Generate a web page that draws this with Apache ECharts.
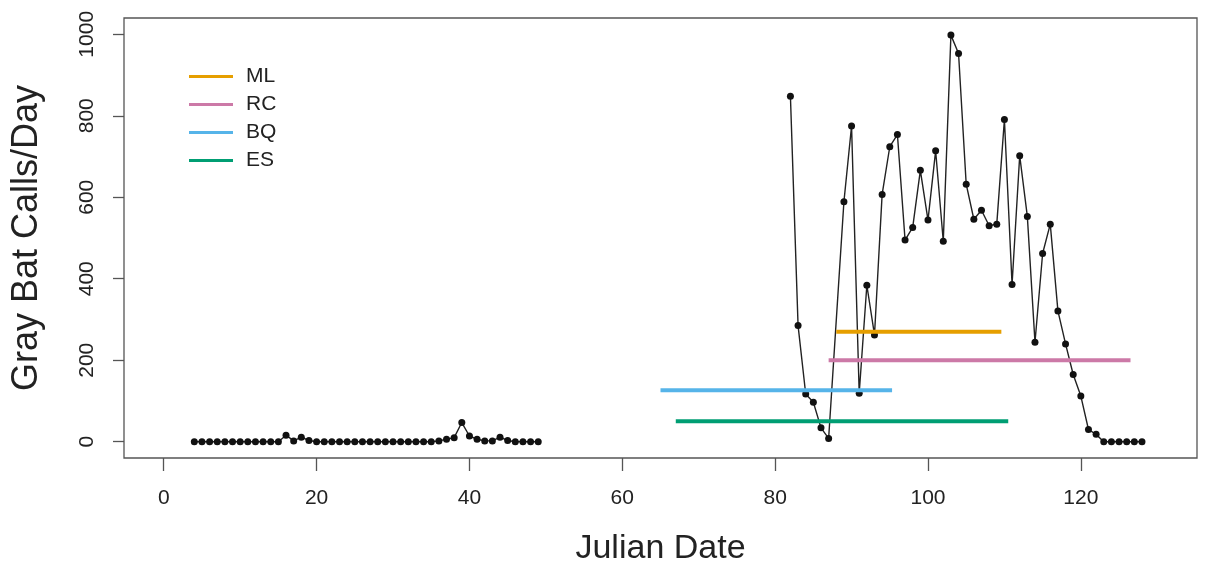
<!DOCTYPE html>
<html>
<head>
<meta charset="utf-8">
<script src="https://cdn.jsdelivr.net/npm/echarts@6/dist/echarts.min.js"></script>
<style>
html,body{margin:0;padding:0;background:#fff;}
#chart{width:1205px;height:571px;}
</style>
</head>
<body>
<div id="chart"></div>
<script>
// Early-season detections (Julian days 4-49)
var daysEarly = [4,5,6,7,8,9,10,11,12,13,14,15,16,17,18,19,20,21,22,23,24,25,26,27,28,29,30,31,32,33,34,35,36,37,38,39,40,41,42,43,44,45,46,47,48,49];
var callsEarly = [0,0,0,0,0,0,0,0,0,0,0,0,16,2,11,3,0,0,0,0,0,0,0,0,0,0,0,0,0,0,0,0,2,6,10,47,14,6,2,2,11,3,0,0,0,0];
// Late-season detections (Julian days 82-128, no day 88)
var daysLate = [82,83,84,85,86,87,89,90,91,92,93,94,95,96,97,98,99,100,101,102,103,104,105,106,107,108,109,110,111,112,113,114,115,116,117,118,119,120,121,122,123,124,125,126,127,128];
var callsLate = [848,285,117,97,34,8,589,775,119,384,262,607,724,754,495,526,666,544,714,492,998,953,632,546,568,530,534,791,386,702,553,244,462,534,321,240,165,112,30,18,0,0,0,0,0,0];
// Site occupancy periods
var siteNames = ['ML','RC','BQ','ES'];
var siteStart = [88,87,65,67];
var siteEnd = [109.6,126.5,95.3,110.5];
var siteLevel = [270,200,126,50];
var siteColors = ['#E69F00','#CC79A7','#56B4E9','#009E73'];
// Tick labels
var xTicks = [0,20,40,60,80,100,120];
var yTicks = [0,200,400,600,800,1000];

var FONT = '"Liberation Sans", Arial, Helvetica, sans-serif';

function pairs(xs, ys){ return xs.map(function(x,i){ return [x, ys[i]]; }); }

var series = [];
[[daysEarly, callsEarly],[daysLate, callsLate]].forEach(function(d){
  series.push({
    type:'line', name:'calls', data: pairs(d[0], d[1]),
    symbol:'circle', symbolSize:7, showSymbol:true,
    itemStyle:{color:'#111'}, lineStyle:{color:'#222', width:1.4},
    z:2, silent:true
  });
});
siteNames.forEach(function(n,i){
  series.push({
    type:'line', name:n,
    data:[[siteStart[i], siteLevel[i]],[siteEnd[i], siteLevel[i]]],
    symbol:'none', color: siteColors[i],
    lineStyle:{color:siteColors[i], width:4, cap:'butt'},
    z:3, silent:true
  });
});

var chart = echarts.init(document.getElementById('chart'), null, {renderer:'canvas'});
chart.setOption({
  animation:false,
  backgroundColor:'#fff',
  grid:{left:124, right:8, top:18, bottom:113, show:true, borderColor:'#555', borderWidth:1.3, backgroundColor:'transparent'},
  legend:{
    data: siteNames, orient:'vertical', left:184, top:61,
    icon:'rect', itemWidth:44, itemHeight:3, itemGap:7,
    textStyle:{fontFamily:FONT, fontSize:21, color:'#222', lineHeight:21, padding:[0,0,0,8]},
    selectedMode:false
  },
  xAxis:{
    type:'value', min:-5.2, max:135.2,
    axisLine:{show:false, onZero:false},
    axisTick:{show:true, inside:false, length:13, customValues:xTicks, lineStyle:{color:'#555', width:1.3}},
    axisLabel:{customValues:xTicks, margin:30, fontFamily:FONT, fontSize:21, color:'#222',
      formatter:function(v){ return String(v); }},
    splitLine:{show:false},
    name:'Julian Date', nameLocation:'middle', nameGap:74,
    nameTextStyle:{fontFamily:FONT, fontSize:34, color:'#222'}
  },
  yAxis:{
    type:'value', min:-40, max:1040,
    axisLine:{show:false, onZero:false},
    axisTick:{show:true, inside:false, length:11, customValues:yTicks, lineStyle:{color:'#555', width:1.3}},
    axisLabel:{customValues:yTicks, rotate:90, margin:26, fontFamily:FONT, fontSize:21, color:'#222',
      formatter:function(v){ return String(v); }},
    splitLine:{show:false},
    name:'Gray Bat Calls/Day', nameLocation:'middle', nameGap:79,
    nameTextStyle:{fontFamily:FONT, fontSize:36, color:'#222'}
  },
  series: series
});
</script>
</body>
</html>
